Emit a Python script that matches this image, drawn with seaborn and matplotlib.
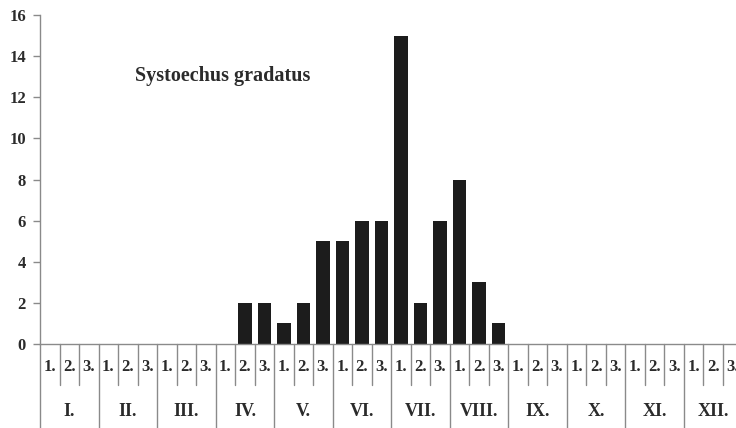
import matplotlib
matplotlib.use("Agg")
import matplotlib.pyplot as plt
import matplotlib.transforms as mtransforms
import seaborn as sns
import pandas as pd

months = ["I.", "II.", "III.", "IV.", "V.", "VI.", "VII.", "VIII.", "IX.", "X.", "XI.", "XII."]
decades = ["1.", "2.", "3."]
counts = [0, 0, 0,  0, 0, 0,  0, 0, 0,  0, 2, 2,
          1, 2, 5,  5, 6, 6,  15, 2, 6,  8, 3, 1,
          0, 0, 0,  0, 0, 0,  0, 0, 0,  0, 0, 0]
yticks = [0, 2, 4, 6, 8, 10, 12, 14, 16]
title = "Systoechus gradatus"

cats = [f"{m}{d}" for m in months for d in decades]
df = pd.DataFrame({"cat": cats, "count": counts})

sns.set_style("white")
plt.rcParams["font.family"] = ["Liberation Serif", "DejaVu Serif"]
plt.rcParams["font.weight"] = "bold"

txt = "#2b2b2b"
line = "#8a8a8a"

fig = plt.figure(figsize=(7.36, 4.28), dpi=100)
ax = fig.add_axes([40 / 736, 84 / 428, 702.5 / 736, 329 / 428])
sns.barplot(data=df, x="cat", y="count", order=cats, color="#1c1c1c",
            width=0.7, saturation=1, edgecolor="none", ax=ax)
ax.set_xlim(-0.5, len(cats) - 0.5)
ax.set_ylim(0, 16)
ax.set_yticks(yticks)
ax.set_yticklabels([str(v) for v in yticks], fontsize=12, fontweight="bold", color=txt)
ax.set_xticks([])
ax.set_xlabel("")
ax.set_ylabel("")
for s in ["top", "right"]:
    ax.spines[s].set_visible(False)
for s in ["left", "bottom"]:
    ax.spines[s].set_color(line)
    ax.spines[s].set_linewidth(1.0)
ax.tick_params(axis="y", direction="out", length=5, width=1, color=line, pad=5, left=True)

ax.text(135 / 736, (428 - 76) / 428, title, transform=fig.transFigure, fontsize=14.5,
        fontweight="bold", color=txt, va="center", ha="left")

trans = mtransforms.blended_transform_factory(ax.transData, fig.transFigure)
y_base = 84 / 428
y_dec = 43 / 428
for i in range(len(cats) + 1):
    x = i - 0.5
    if i % 3 == 0:
        ax.plot([x, x], [y_base, 0], transform=trans, color=line, lw=1.0, clip_on=False)
    else:
        ax.plot([x, x], [y_base, y_dec], transform=trans, color=line, lw=1.0, clip_on=False)
for i, c in enumerate(cats):
    ax.text(i, 61 / 428, decades[i % 3], transform=trans, ha="center", va="center",
            fontsize=12, fontweight="bold", color=txt, clip_on=False)
for j, m in enumerate(months):
    ax.text(3 * j + 1, 16 / 428, m, transform=trans, ha="center", va="center",
            fontsize=13, fontweight="bold", color=txt, clip_on=False)

fig.savefig("out.png", dpi=100)
